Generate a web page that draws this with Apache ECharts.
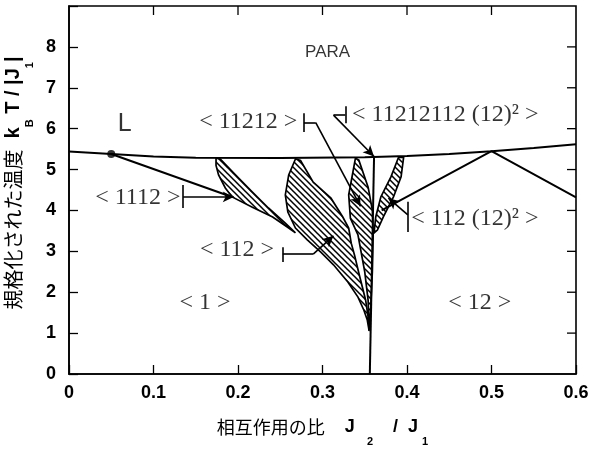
<!DOCTYPE html>
<html><head><meta charset="utf-8">
<script src="https://cdn.jsdelivr.net/npm/echarts@6/dist/echarts.min.js"></script>
<style>html,body{margin:0;padding:0;background:#fff}#c{width:591px;height:450px}</style>
</head><body><div id="c"></div>
<script>
// ---- data (J2/J1, kBT/|J1|) ----
const paraLine = [[0,5.44],[0.05,5.38],[0.1,5.32],[0.15,5.29],[0.25,5.28],[0.35,5.30],[0.4,5.33],[0.45,5.38],[0.5,5.45],[0.55,5.53],[0.6,5.62]];
const lifshitzPoint = [[0.05,5.38]];
const lLine = [[0.05,5.38],[0.193,4.33]];
const rightV = [[0.37,4.0],[0.5,5.45],[0.6,4.32]];
const vertLine = [[0.356,0],[0.361,5.30]];
const region1112 = [[0.174,5.28],[0.179,5.26],[0.197,4.87],[0.217,4.45],[0.236,4.06],[0.256,3.69],[0.268,3.45],[0.260,3.57],[0.241,3.84],[0.217,4.08],[0.193,4.33],[0.185,4.55],[0.177,4.87],[0.174,5.10]];
const region112 = [[0.268,5.26],[0.274,5.22],[0.289,4.69],[0.310,4.30],[0.324,3.84],[0.331,3.57],[0.334,3.20],[0.338,2.90],[0.343,2.47],[0.351,1.81],[0.354,1.40],[0.355,1.08],[0.353,1.32],[0.349,1.56],[0.342,1.88],[0.330,2.25],[0.313,2.67],[0.298,2.98],[0.282,3.28],[0.268,3.57],[0.259,3.96],[0.256,4.38],[0.260,4.87]];
const region11212 = [[0.339,5.28],[0.343,5.23],[0.354,4.57],[0.359,4.01],[0.360,3.45],[0.359,2.50],[0.357,1.60],[0.355,1.05],[0.354,1.80],[0.350,2.50],[0.342,3.40],[0.333,3.81],[0.331,4.38],[0.336,4.94]];
const region112_12sq = [[0.390,5.30],[0.396,5.30],[0.393,4.82],[0.384,4.33],[0.372,3.84],[0.365,3.52],[0.361,3.45],[0.363,3.84],[0.369,4.33],[0.381,4.82]];
const regions = [region1112, region112, region11212, region112_12sq];

// pointer segments: [start, end, hasArrow]
const pointers = [
  [[0.135,4.62],[0.135,4.06],0],[[0.135,4.33],[0.195,4.33],1],
  [[0.253,3.10],[0.253,2.74],0],[[0.253,2.93],[0.289,2.93],0],[[0.289,2.93],[0.313,3.38],1],
  [[0.278,6.38],[0.278,5.92],0],[[0.278,6.15],[0.292,6.15],0],[[0.292,6.15],[0.345,4.10],1],
  [[0.327,6.55],[0.327,6.13],0],[[0.313,6.33],[0.327,6.33],0],[[0.313,6.33],[0.361,5.32],1],
  [[0.401,4.21],[0.401,3.47],0],[[0.401,3.89],[0.378,4.30],1]
];

// labels: [text, x, y, anchor]
const labelsSerif = [
  ['< 11212 >',0.154,6.16,'left'],
  ['< 11212112 (12)² >',0.335,6.33,'left'],
  ['< 1112 >',0.031,4.30,'left'],
  ['< 112 >',0.155,3.03,'left'],
  ['< 1 >',0.161,1.74,'center'],
  ['< 12 >',0.486,1.74,'center'],
  ['< 112 (12)² >',0.405,3.81,'left']
];
const labelsSans = [['PARA',0.306,7.87,17],['L',0.066,6.11,25]];

const xMin = 0, xMax = 0.6, xStep = 0.1;
const yMin = 0, yMax = 9, yStep = 1;
const xTicks = [0.1,0.2,0.3,0.4,0.5];
const yTicks = [1,2,3,4,5,6,7,8];

// hatch pattern
const pc = document.createElement('canvas');
pc.width = 6; pc.height = 6;
const g = pc.getContext('2d');
g.strokeStyle = '#000'; g.lineWidth = 1.5;
g.beginPath();
g.moveTo(-1,-1); g.lineTo(7,7);
g.moveTo(-1,5); g.lineTo(1,7);
g.moveTo(5,-1); g.lineTo(7,1);
g.stroke();

const chart = echarts.init(document.getElementById('c'), null, {renderer:'canvas'});
const black = '#000';
const lineSeries = (d) => ({type:'line', data:d, symbol:'none', silent:true, z:3,
  lineStyle:{color:black,width:2}, animation:false});

const option = {
  animation:false,
  grid:{left:69,right:15,top:6,bottom:76,show:true,borderColor:black,borderWidth:1.6,backgroundColor:'transparent',outerBoundsMode:'none'},
  xAxis:{type:'value',min:xMin,max:xMax,interval:xStep,position:'bottom',
    axisLine:{show:true,onZero:false,lineStyle:{color:black,width:1.6}},
    axisTick:{show:true,inside:true,length:9,lineStyle:{color:black,width:1.3}},
    splitLine:{show:false},
    axisLabel:{color:black,fontFamily:'Liberation Sans',fontSize:18,fontWeight:'bold',margin:10,
      formatter:v=>String(+v.toFixed(1))},
    name:'{c|相互作用の比}{l|    J}{s|2}{l|    /  J}{s1|1}',
    nameLocation:'middle',nameGap:33,
    nameTextStyle:{rich:{
      c:{fontFamily:'Noto Sans CJK JP',fontSize:18,lineHeight:40,color:black},
      l:{fontFamily:'Liberation Sans',fontSize:18,fontWeight:'bold',lineHeight:40,color:black},
      s:{fontFamily:'Liberation Sans',fontSize:11,fontWeight:'bold',lineHeight:11,verticalAlign:'bottom',color:black,padding:[0,0,0,12]},
      s1:{fontFamily:'Liberation Sans',fontSize:11,fontWeight:'bold',lineHeight:11,verticalAlign:'bottom',color:black,padding:[0,0,0,4]}
    }}},
  yAxis:{type:'value',min:yMin,max:yMax,interval:yStep,position:'left',
    axisLine:{show:true,onZero:false,lineStyle:{color:black,width:1.6}},
    axisTick:{show:true,inside:true,length:9,lineStyle:{color:black,width:1.3}},
    splitLine:{show:false},
    axisLabel:{color:black,fontFamily:'Liberation Sans',fontSize:18,fontWeight:'bold',margin:13,
      formatter:v=>v>=9?'':String(v)},
    name:'{c|規格化された温度}{l|  k}{s|B}{l| T / |J}{s|1}{l||}',
    nameLocation:'middle',nameRotate:90,nameGap:23,
    nameTextStyle:{padding:[0,0,0,14],rich:{
      c:{fontFamily:'Noto Sans CJK JP',fontSize:20,lineHeight:44,color:black},
      l:{fontFamily:'Liberation Sans',fontSize:20,fontWeight:'bold',lineHeight:44,color:black},
      s:{fontFamily:'Liberation Sans',fontSize:11,fontWeight:'bold',lineHeight:11,verticalAlign:'bottom',color:black}
    }}},
  series:[
    {type:'custom', data:xTicks.map(v=>[v,yMax]),
      renderItem:(params, api)=>{
        const p = api.coord([xTicks[params.dataIndex], yMax]);
        return {type:'line', shape:{x1:p[0],y1:p[1],x2:p[0],y2:p[1]+9}, style:{stroke:'#000',lineWidth:1.3}};
      }},
    {type:'custom', data:yTicks.map(v=>[xMax,v]),
      renderItem:(params, api)=>{
        const p = api.coord([xMax, yTicks[params.dataIndex]]);
        return {type:'line', shape:{x1:p[0],y1:p[1],x2:p[0]-9,y2:p[1]}, style:{stroke:'#000',lineWidth:1.3}};
      }},
    {type:'custom', silent:true, z:2, data:regions.map(r=>r[0]),
      renderItem:(params, api)=>{
        const pts = regions[params.dataIndex].map(p=>api.coord(p));
        return {type:'polygon', shape:{points:pts},
          style:{fill:{image:pc,repeat:'repeat'}, stroke:black, lineWidth:1.7}};
      }},
    lineSeries(paraLine),
    lineSeries(lLine),
    lineSeries(rightV),
    lineSeries(vertLine),
    {type:'scatter', data:lifshitzPoint, symbol:'circle', symbolSize:8, itemStyle:{color:black}, silent:true, z:4},
    {type:'line', data:[], silent:true, z:4,
      markLine:{silent:true, animation:false, label:{show:false},
        lineStyle:{color:black,width:1.6,type:'solid'},
        data:pointers.map(s=>[
          {coord:s[0],symbol:'none'},
          {coord:s[1],symbol:s[2]?'arrow':'none',symbolSize:[8,11]}
        ])}},
    {type:'scatter', symbolSize:0, silent:true, z:5,
      data:labelsSerif.map(l=>({value:[l[1],l[2]],label:{show:true,formatter:l[0],
        position:l[3]==='left'?'right':'inside',distance:0,align:l[3],verticalAlign:'middle',
        fontFamily:'Liberation Serif',fontSize:24,color:black}}))},
    {type:'scatter', symbolSize:0, silent:true, z:5,
      data:labelsSans.map(l=>({value:[l[1],l[2]],label:{show:true,formatter:l[0],
        position:'inside',fontFamily:'Liberation Sans',fontSize:l[3],color:black}}))}
  ]
};
chart.setOption(option);
</script></body></html>
